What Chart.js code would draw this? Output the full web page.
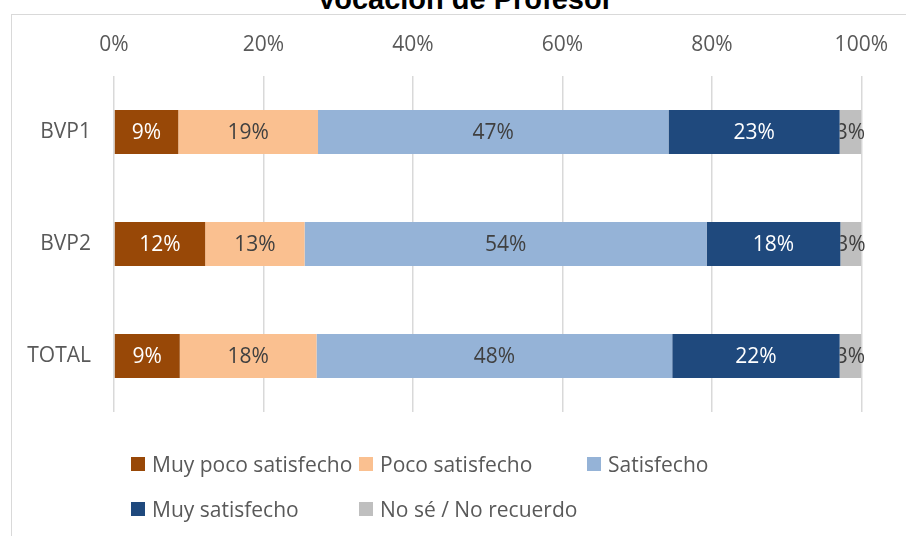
<!DOCTYPE html>
<html>
<head>
<meta charset="utf-8">
<script src="https://cdn.jsdelivr.net/npm/chart.js@4/dist/chart.umd.min.js"></script>
<style>
  body { margin: 0; background: #fff; }
  #wrap { position: relative; width: 906px; height: 536px; overflow: hidden; background: #fff; }
  #frame { position: absolute; left: 11px; top: 14px; width: 1000px; height: 1000px; border: 1px solid #d9d9d9; }
  #title { position: absolute; left: 0; width: 930px; top: -17px; line-height: 29px; text-align: center;
    font: bold 29px "Liberation Sans", Arial, sans-serif; color: #000; }
  #chart { position: absolute; left: 0; top: 0; }
  .leg { position: absolute; font: 21px "Open Sans", sans-serif; color: #595959; white-space: nowrap; line-height: 26px; }
  .leg span { position: absolute; left: 0; top: 6px; width: 14px; height: 14px; }
  .leg b { font-weight: normal; position: absolute; left: 21px; top: 0; }
</style>
</head>
<body>
<div id="wrap">
  <div id="frame"></div>
  <div id="title">Vocación de Profesor</div>
  <canvas id="chart" width="906" height="536"></canvas>
  <div id="legend"></div>
</div>
<script>
const categories = ["BVP1", "BVP2", "TOTAL"];
const seriesNames = ["Muy poco satisfecho", "Poco satisfecho", "Satisfecho", "Muy satisfecho", "No sé / No recuerdo"];
const muyPoco = [8.6, 12.2, 8.8];
const poco = [18.7, 13.3, 18.3];
const satisfecho = [46.9, 53.8, 47.6];
const muySatisfecho = [22.9, 17.9, 22.4];
const noSe = [2.9, 2.8, 2.9];
const tickValues = [0, 20, 40, 60, 80, 100];

const colors = ["#984807", "#FAC090", "#95B3D7", "#1F497D", "#BFBFBF"];
const labelColors = ["#ffffff", "#404040", "#404040", "#ffffff", "#404040"];
const allSeries = [muyPoco, poco, satisfecho, muySatisfecho, noSe];
const font = "Open Sans";

// ================== data labels ======================
const barLabels = {
  id: "barLabels",
  afterDatasetsDraw(chart) {
    const ctx = chart.ctx;
    chart.data.datasets.forEach((ds, i) => {
      const meta = chart.getDatasetMeta(i);
      meta.data.forEach((bar, j) => {
        const left = Math.min(bar.x, bar.base);
        const cx = (bar.x + bar.base) / 2;
        ctx.save();
        ctx.beginPath();
        ctx.rect(left, bar.y - bar.height / 2, chart.width - left, bar.height);
        ctx.clip();
        ctx.font = "21px '" + font + "'";
        ctx.fillStyle = labelColors[i];
        ctx.textAlign = "center";
        ctx.textBaseline = "middle";
        ctx.fillText(Math.round(ds.data[j]) + "%", cx, bar.y + 1);
        ctx.restore();
      });
    });
  },
};

const chart = new Chart(document.getElementById("chart"), {
  type: "bar",
  data: {
    labels: categories,
    datasets: seriesNames.map((name, i) => ({
      label: name,
      data: allSeries[i],
      backgroundColor: colors[i],
      borderWidth: 0,
      barPercentage: 0.393,
      categoryPercentage: 1,
    })),
  },
  options: {
    indexAxis: "y",
    responsive: false,
    animation: false,
    layout: { padding: { left: 0, right: 44, top: 20, bottom: 124 } },
    scales: {
      x: {
        position: "top",
        stacked: true,
        min: 0,
        max: 100,
        afterBuildTicks: (scale) => {
          scale.ticks = tickValues.map((v) => ({ value: v }));
        },
        afterFit: (scale) => { scale.height = 56; },
        border: { display: false },
        grid: { color: "#d9d9d9", lineWidth: 1.5, drawTicks: false },
        ticks: {
          padding: 18,
          color: "#595959",
          font: { family: font, size: 21 },
          callback: (v) => v + "%",
        },
      },
      y: {
        stacked: true,
        afterFit: (scale) => { scale.width = 114; },
        border: { display: false },
        grid: { display: false, drawTicks: false },
        ticks: {
          padding: 23,
          color: "#595959",
          font: { family: font, size: 21 },
        },
      },
    },
    plugins: {
      legend: { display: false },
      tooltip: { enabled: false },
    },
  },
  plugins: [barLabels],
});

// ================== legend ======================
const legendPos = [[131, 451], [359, 451], [587, 451], [131, 496], [359, 496]];
const legend = document.getElementById("legend");
seriesNames.forEach((name, i) => {
  const item = document.createElement("div");
  item.className = "leg";
  item.style.left = legendPos[i][0] + "px";
  item.style.top = legendPos[i][1] + "px";
  item.innerHTML = `<span style="background:${colors[i]}"></span><b>${name}</b>`;
  legend.appendChild(item);
});
</script>
</body>
</html>
